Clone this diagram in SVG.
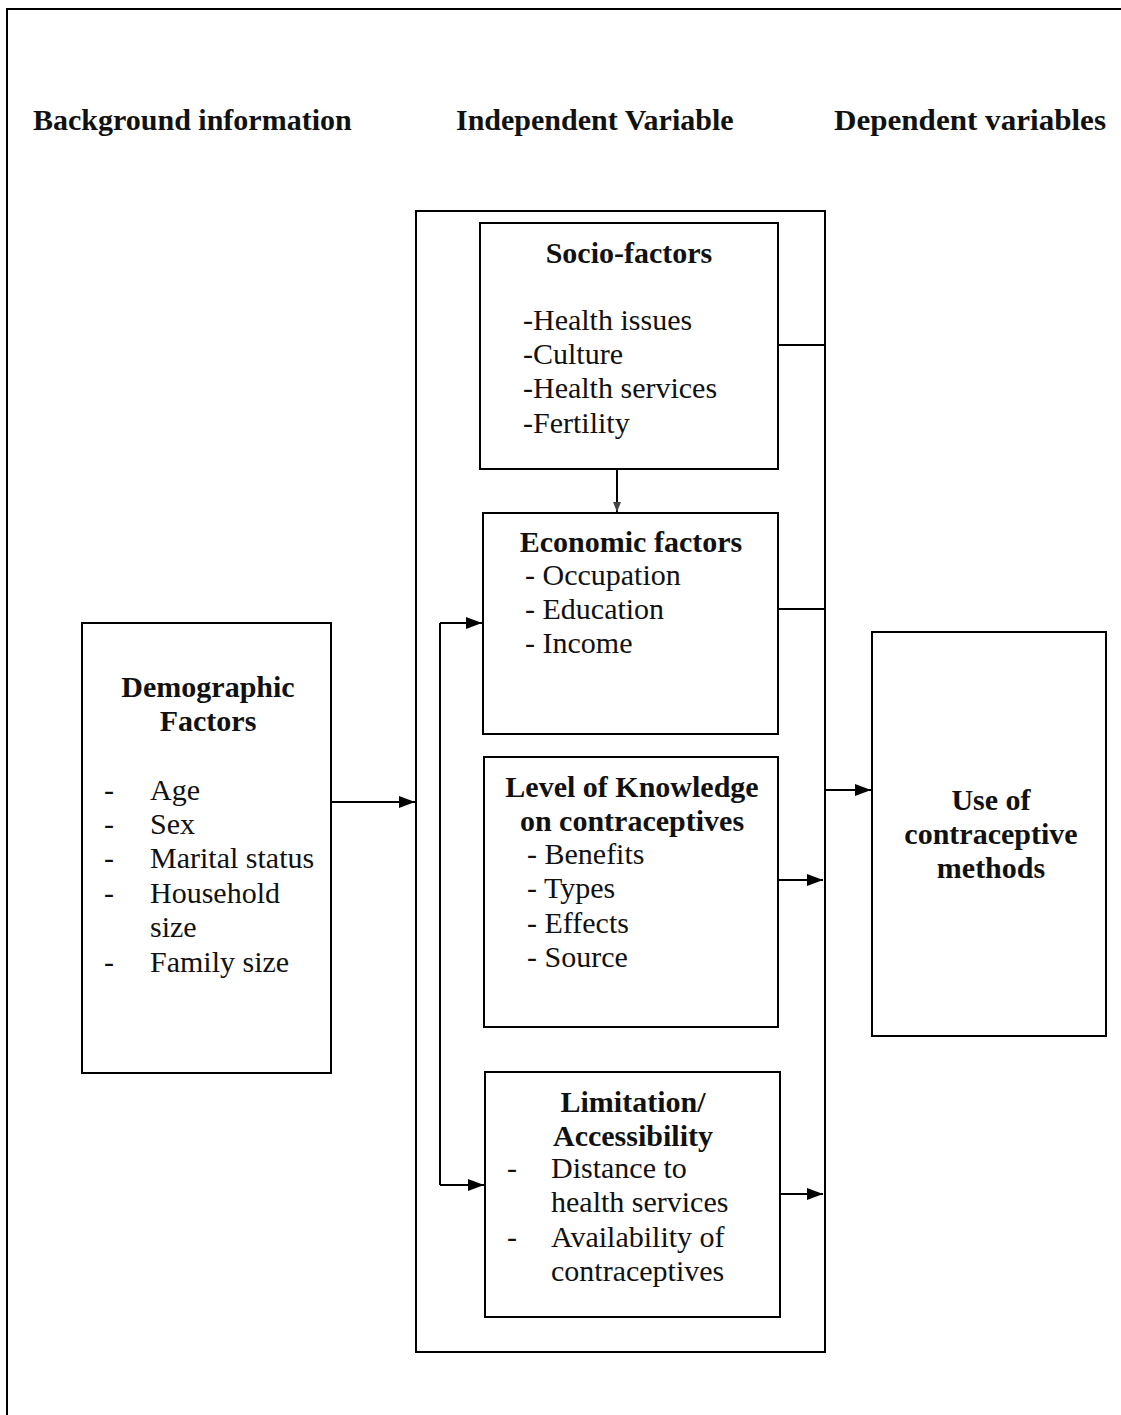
<svg xmlns="http://www.w3.org/2000/svg" width="1121" height="1415" viewBox="0 0 1121 1415">
<style>
.box{fill:none;stroke:#000;stroke-width:2}
.ln{fill:none;stroke:#000;stroke-width:2}
.hd{font-family:"Liberation Serif","Times New Roman",serif;font-weight:bold;font-size:30px;fill:#111}
.tt{font-family:"Liberation Serif","Times New Roman",serif;font-weight:bold;font-size:30px;fill:#111;text-anchor:middle}
.it{font-family:"Liberation Serif","Times New Roman",serif;font-size:30px;fill:#111}
</style>
<defs>
<marker id="ah" markerUnits="userSpaceOnUse" markerWidth="18" markerHeight="14" refX="16" refY="6" orient="auto">
<path d="M0,0 L16,6 L0,12 z" fill="#000"/>
</marker>
<marker id="ahs" markerUnits="userSpaceOnUse" markerWidth="12" markerHeight="10" refX="10" refY="4" orient="auto">
<path d="M0,0 L10,4 L0,8 z" fill="#444"/>
</marker>
</defs>
<rect width="1121" height="1415" fill="#fff"/>
<g id="frame">
<path class="ln" d="M7,1415 V9 H1121"/>
</g>
<g id="headers">
<text class="hd" x="33" y="130">Background information</text>
<text class="hd" x="456" y="130">Independent Variable</text>
<text class="hd" x="834" y="130" textLength="272" lengthAdjust="spacingAndGlyphs">Dependent variables</text>
</g>
<g id="container">
<rect class="box" x="416" y="211" width="409" height="1141"/>
</g>
<g id="socio">
<rect class="box" x="480" y="223" width="298" height="246"/>
<text class="tt" x="629" y="263">Socio-factors</text>
<text class="it" x="523" y="330">-Health issues</text>
<text class="it" x="523" y="364">-Culture</text>
<text class="it" x="523" y="398">-Health services</text>
<text class="it" x="523" y="433">-Fertility</text>
</g>
<g id="economic">
<rect class="box" x="483" y="513" width="295" height="221"/>
<text class="tt" x="631" y="552">Economic factors</text>
<text class="it" x="525" y="585">- Occupation</text>
<text class="it" x="525" y="619">- Education</text>
<text class="it" x="525" y="653">- Income</text>
</g>
<g id="knowledge">
<rect class="box" x="484" y="757" width="294" height="270"/>
<text class="tt" x="632" y="797">Level of Knowledge</text>
<text class="tt" x="632" y="831">on contraceptives</text>
<text class="it" x="527" y="864">- Benefits</text>
<text class="it" x="527" y="898">- Types</text>
<text class="it" x="527" y="933">- Effects</text>
<text class="it" x="527" y="967">- Source</text>
</g>
<g id="limitation">
<rect class="box" x="485" y="1072" width="295" height="245"/>
<text class="tt" x="633" y="1112">Limitation/</text>
<text class="tt" x="633" y="1146">Accessibility</text>
<text class="it" x="507" y="1178">-</text>
<text class="it" x="551" y="1178">Distance to</text>
<text class="it" x="551" y="1212">health services</text>
<text class="it" x="507" y="1247">-</text>
<text class="it" x="551" y="1247">Availability of</text>
<text class="it" x="551" y="1281">contraceptives</text>
</g>
<g id="demographic">
<rect class="box" x="82" y="623" width="249" height="450"/>
<text class="tt" x="208" y="697">Demographic</text>
<text class="tt" x="208" y="731">Factors</text>
<text class="it" x="104" y="800">-</text>
<text class="it" x="150" y="800">Age</text>
<text class="it" x="104" y="834">-</text>
<text class="it" x="150" y="834">Sex</text>
<text class="it" x="104" y="868">-</text>
<text class="it" x="150" y="868">Marital status</text>
<text class="it" x="104" y="903">-</text>
<text class="it" x="150" y="903">Household</text>
<text class="it" x="150" y="937">size</text>
<text class="it" x="104" y="972">-</text>
<text class="it" x="150" y="972">Family size</text>
</g>
<g id="use">
<rect class="box" x="872" y="632" width="234" height="404"/>
<text class="tt" x="991" y="810">Use of</text>
<text class="tt" x="991" y="844">contraceptive</text>
<text class="tt" x="991" y="878">methods</text>
</g>
<g id="connectors">
<path class="ln" d="M331,802 H415" marker-end="url(#ah)"/>
<path class="ln" d="M440,623 V1185"/>
<path class="ln" d="M440,623 H482" marker-end="url(#ah)"/>
<path class="ln" d="M440,1185 H484" marker-end="url(#ah)"/>
<path class="ln" d="M617,469 V512" marker-end="url(#ahs)"/>
<path class="ln" d="M778,345 H824"/>
<path class="ln" d="M778,609 H824"/>
<path class="ln" d="M778,880 H823" marker-end="url(#ah)"/>
<path class="ln" d="M780,1194 H823" marker-end="url(#ah)"/>
<path class="ln" d="M825,790 H871" marker-end="url(#ah)"/>
</g>
</svg>
